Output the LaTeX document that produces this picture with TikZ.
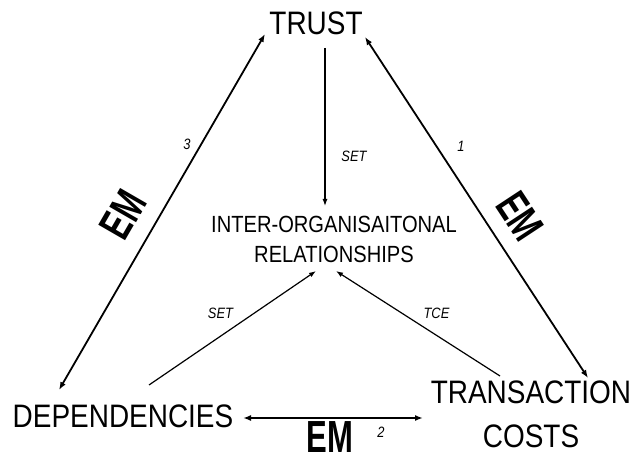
\documentclass[tikz,border=0pt]{standalone}
\usepackage{fontspec}
\setmainfont[FakeStretch=0.86]{Liberation Sans}
\newfontfamily\emfont[FakeStretch=0.69]{Liberation Sans Bold}
\usetikzlibrary{arrows.meta}
\begin{document}
\begin{tikzpicture}[x=1bp,y=-1bp,
  big/.style={font=\fontsize{32.5bp}{36bp}\selectfont, inner sep=0pt},
  mid/.style={font=\fontsize{23.4bp}{30bp}\selectfont, inner sep=0pt, align=center},
  lab/.style={font=\fontsize{15bp}{15bp}\selectfont\itshape, inner sep=0pt},
  em/.style={font=\emfont\fontsize{45bp}{45bp}\selectfont, inner sep=0pt},
  dbl/.style={line width=1.8bp, {Latex[length=8bp,width=6bp]}-{Latex[length=8bp,width=6bp]}},
  one/.style={line width=1.2bp, -{Latex[length=7bp,width=5bp]}}]
\useasboundingbox (0,0) rectangle (634,457);
% main nodes
\node[big] (trust) at (316,23.5) {TRUST};
\node[big] (dep) at (123,416) {DEPENDENCIES};
\node[big] (trans) at (531,392) {TRANSACTION};
\node[big] (costs) at (531,436) {COSTS};
\node[mid] (ior) at (334,239.5) {INTER-ORGANISAITONAL\\RELATIONSHIPS};
% connector ends
\coordinate (l1) at (265,34);
\coordinate (l2) at (59,390);
\coordinate (r1) at (365,37);
\coordinate (r2) at (588,378);
\coordinate (b1) at (243,418);
\coordinate (b2) at (423,418);
\coordinate (v1) at (325,48);
\coordinate (v2) at (325,206);
\coordinate (s1) at (149,385);
\coordinate (s2) at (316,271);
\coordinate (c1) at (500,376);
\coordinate (c2) at (336,271);
% connectors
\draw[dbl] (l2) -- (l1);
\draw[dbl] (r1) -- (r2);
\draw[dbl] (b1) -- (b2);
\draw[one] (v1) -- (v2);
\draw[one] (s1) -- (s2);
\draw[one] (c1) -- (c2);
% labels
\node[lab] (lset1) at (354,156) {SET};
\node[lab] (lset2) at (220.5,313.5) {SET};
\node[lab] (ltce) at (436.5,313.5) {TCE};
\node[lab] (n3) at (187,144) {3};
\node[lab] (n1) at (461,146) {1};
\node[lab] (n2) at (381,432) {2};
\node[em, rotate=60] (em1) at (123,215) {EM};
\node[em, rotate=-56.6] (em2) at (520,216) {EM};
\node[em] (em3) at (330,437) {EM};
\end{tikzpicture}
\end{document}
